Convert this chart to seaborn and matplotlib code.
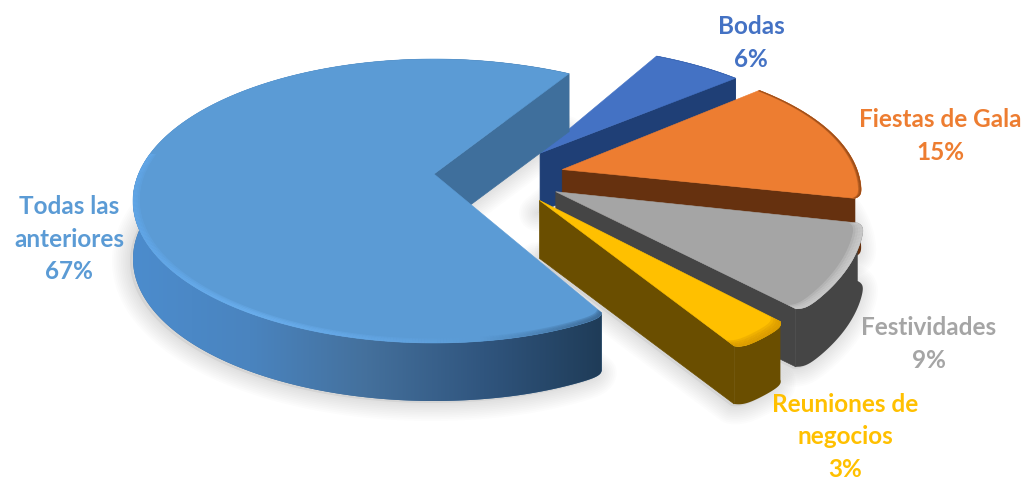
import numpy as np
import pandas as pd
import seaborn as sns
import matplotlib
matplotlib.use("Agg")
import matplotlib.pyplot as plt
from matplotlib.collections import PolyCollection
from matplotlib.patches import Polygon

# Survey shares, in the clockwise order the slices follow
categories = ["Bodas", "Fiestas de Gala", "Festividades", "Reuniones de negocios", "Todas las anteriores"]
shares = [6, 15, 9, 3, 67]
label_lines = ["Bodas", "Fiestas de Gala", "Festividades", "Reuniones de\nnegocios", "Todas las\nanteriores"]

sns.set_theme(style="white")
plt.rcParams["font.family"] = ["Lato", "DejaVu Sans"]

top_colors = sns.color_palette(["#4472c4", "#ed7d31", "#a5a5a5", "#ffc000", "#5b9bd5"])
wall_colors = ["#1f3f76", "#66310f", "#454545", "#6a4e00", "#3f6f9c"]
bevel_colors = ["#3b66b2", "#8a4415", "#cfcfcf", "#d99a00", "#6db2f2"]
bevel_widths = [0.004, 0.01, 0.03, 0.035, 0.022]
label_xy = [(751, 43), (940, 136), (929, 344), (845, 437), (69, 239)]

# Projection of the pie plane on the canvas, in pixels
CX, CY, RX, RY = 434, 201, 301, 142
TILT = 0.19
DEPTH = 58
EXPLODE = 0.22
START = 57.9
# The far right of the pie recedes a little more than a plain tilt gives
BEND_FROM, BEND_X, BEND_Y = 500, 0.45e-4, 1.1e-4
# Front corners of each slice are softly rounded
CORNER_CUT, CORNER_SPAN = 0.02, 1.0


def project(x, y, drop=0.0):
    w = 1 + TILT * y
    px = CX + RX * x * np.sqrt(1 - TILT ** 2) / w
    py = CY - RY * (y + TILT) / w
    over = np.clip(px - BEND_FROM, 0, None)
    return px - BEND_X * over ** 2, py - BEND_Y * over ** 2 + drop


def unit(deg):
    return np.array([np.cos(np.radians(deg)), np.sin(np.radians(deg))])


df = pd.DataFrame({"category": categories, "share": shares})
df["sweep"] = df["share"] / df["share"].sum() * 360
df["start"] = START - df["sweep"].cumsum().shift(fill_value=0)
df["end"] = df["start"] - df["sweep"]
df["mid"] = (df["start"] + df["end"]) / 2
last_mid = df["mid"].iloc[-1]

blue_wall = sns.blend_palette(["#4c8ccd", "#4a84bf", "#44709c", "#30557e", "#1f3c58"], as_cmap=True)
blue_rim = sns.blend_palette(["#62a8ea", "#6db2f2", "#66a9e8", "#5b9bd5", "#3c6791"], as_cmap=True)

fig = plt.figure(figsize=(10.25, 4.79), dpi=100)
ax = fig.add_axes([0, 0, 1, 1])


def rim(row, radius=1.0, n=240):
    offset = EXPLODE * (unit(row["mid"]) - unit(last_mid))
    degrees = np.linspace(row["start"], row["end"], max(n * int(row["sweep"]) // 120, 64))
    theta = np.radians(degrees)
    r = np.full_like(theta, radius)
    for edge in (row["start"], row["end"]):
        if np.sin(np.radians(edge)) < 0:
            r -= CORNER_CUT * np.exp(-np.abs(degrees - edge) / CORNER_SPAN)
    return offset, offset[0] + r * np.cos(theta), offset[1] + r * np.sin(theta), theta


# Soft ground shadow below every slice
for i, row in df.iterrows():
    offset, ax_x, ax_y, _ = rim(row)
    sx, sy = project(np.r_[offset[0], ax_x], np.r_[offset[1], ax_y], DEPTH + 2)
    ax.fill(sx - 3, sy, facecolor="#000000", edgecolor="none", alpha=0.05, zorder=1)
    for spread in range(1, 11):
        ax.fill(sx - 3, sy, facecolor="none", edgecolor="#000000", alpha=0.011,
                lw=spread * 2.6, joinstyle="round", zorder=1)

# Slices are painted from the back of the pie to the front
for i, row in df.iterrows():
    z = 2 + i
    offset, rx, ry, theta = rim(row)
    tip_x, tip_y = project(offset[0], offset[1])
    sx, sy = project(rx, ry)

    # curved outer wall; the large slice carries a left-to-right gradient
    wall_x = np.r_[sx, sx[::-1]]
    wall_y = np.r_[sy, sy[::-1] + DEPTH]
    wall = Polygon(np.c_[wall_x, wall_y], closed=True, facecolor=wall_colors[i], edgecolor="none", zorder=z)
    ax.add_patch(wall)
    if row["category"] == "Todas las anteriores":
        ramp = np.linspace(0, 1, 256)[None, :]
        image = ax.imshow(ramp, extent=(sx.min(), sx.max(), sy.max() + DEPTH, sy.min()),
                          cmap=blue_wall, aspect="auto", zorder=z, interpolation="bilinear")
        image.set_clip_path(wall)

    # the flat wall on the trailing edge is the one facing the viewer
    ax.fill([tip_x, sx[-1], sx[-1], tip_x],
            [tip_y, sy[-1], sy[-1] + DEPTH, tip_y + DEPTH],
            color=wall_colors[i], lw=0.5, zorder=z)

    # top face
    ax.fill(np.r_[tip_x, sx], np.r_[tip_y, sy], color=top_colors[i], lw=0.4, zorder=z)

    # bevel along the rim: nested translucent bands that fade inwards
    for step in np.linspace(1.0, 0.25, 4):
        _, ix, iy, _ = rim(row, 1.0 - bevel_widths[i] * step)
        bx, by = project(ix, iy)
        strips = [[(sx[j], sy[j]), (sx[j + 1], sy[j + 1]), (bx[j + 1], by[j + 1]), (bx[j], by[j])]
                  for j in range(len(sx) - 1)]
        tones = [bevel_colors[i]] * len(strips)
        if i == 4:
            # only the part of the rim that faces the viewer catches the light
            keep = [j for j in range(len(sx) - 1) if np.sin(theta[j]) < 0.15]
            strips = [strips[j] for j in keep]
            tones = [blue_rim(np.clip((sx[j] - 133) / 467, 0, 1)) for j in keep]
        ax.add_collection(PolyCollection(strips, facecolors=tones, edgecolors="none", alpha=0.38, zorder=z))

# Category names with their percentages
for i, row in df.iterrows():
    ax.text(label_xy[i][0], label_xy[i][1], f"{label_lines[i]}\n{row['share']}%",
            ha="center", va="center", fontsize=17.5, fontweight="bold",
            color=top_colors[i], linespacing=1.48, zorder=10)

ax.set_xlim(0, 1025)
ax.set_ylim(479, 0)
ax.axis("off")
fig.savefig("out.png", dpi=100, facecolor="white")
